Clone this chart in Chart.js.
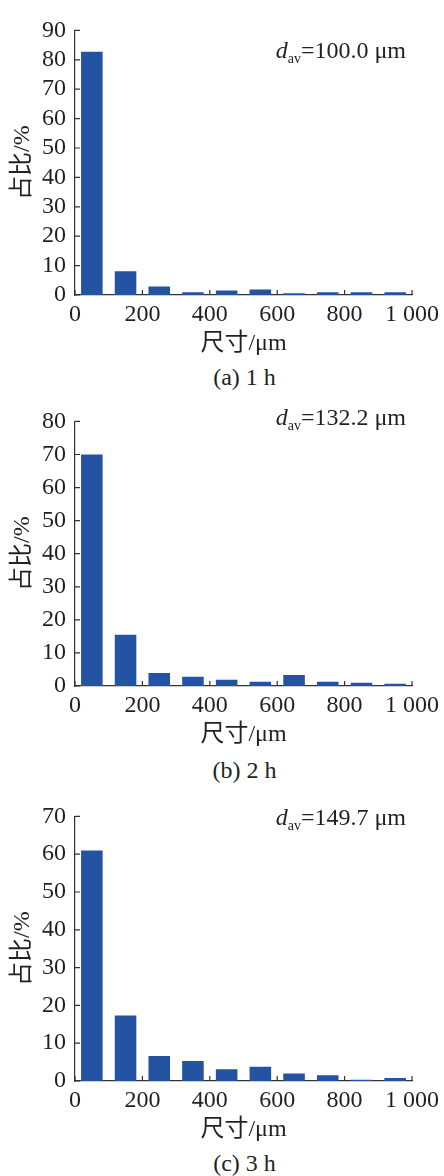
<!DOCTYPE html>
<html>
<head>
<meta charset="utf-8">
<script src="https://cdn.jsdelivr.net/npm/chart.js@4/dist/chart.umd.min.js"></script>
<style>
  html, body { margin: 0; padding: 0; background: #fff; }
  #page { position: relative; width: 444px; height: 1176px; overflow: hidden; }
  .panel { position: absolute; left: 0; width: 444px; height: 351px; }
  .txt { position: absolute; font-family: "Liberation Serif", "Noto Sans CJK SC", serif; font-size: 24px;
         color: #231f20; line-height: 28px; height: 28px; white-space: nowrap; }
  .cap { left: 0; width: 489px; text-align: center; }
  .dav { right: 38px; }
  .dav i { font-style: italic; }
  .dav sub { font-size: 14px; vertical-align: -5px; line-height: 0; }
</style>
</head>
<body>
<div id="page">
  <div class="panel" style="top:7px"><canvas id="c1"></canvas></div>
  <div class="panel" style="top:398px"><canvas id="c2"></canvas></div>
  <div class="panel" style="top:793px"><canvas id="c3"></canvas></div>

  <div class="txt dav" style="top:36px"><i>d</i><sub>av</sub>=100.0 μm</div>
  <div class="txt dav" style="top:403px"><i>d</i><sub>av</sub>=132.2 μm</div>
  <div class="txt dav" style="top:803px"><i>d</i><sub>av</sub>=149.7 μm</div>

  <div class="txt cap" style="top:363px">(a) 1 h</div>
  <div class="txt cap" style="top:756px">(b) 2 h</div>
  <div class="txt cap" style="top:1149px">(c) 3 h</div>
</div>
<script>
// 粒径区间中心 (μm)
const binCenters = [50, 150, 250, 350, 450, 550, 650, 750, 850, 950];

// 各时间的占比 (%)
const share1h = [82.7, 8.1, 2.9, 0.9, 1.5, 1.9, 0.6, 0.9, 0.9, 0.9];
const share2h = [70.0, 15.5, 3.9, 2.8, 1.9, 1.3, 3.3, 1.3, 1.0, 0.7];
const share3h = [61.0, 17.3, 6.6, 5.3, 3.1, 3.8, 2.0, 1.5, 0.3, 0.8];

const yMax = [90, 80, 70];
const xTicks = [0, 200, 400, 600, 800, 1000];

const FONT = '"Liberation Serif", "Noto Sans CJK SC", serif';
const INK = '#231f20';
const BAR = '#2453a2';

// 刻度线朝内
const innerTicks = {
  id: 'innerTicks',
  afterDraw(chart) {
    const { ctx, chartArea: a, scales: { x, y } } = chart;
    ctx.save();
    ctx.strokeStyle = '#333';
    ctx.lineWidth = 1.2;
    ctx.beginPath();
    y.ticks.forEach(t => {
      const py = y.getPixelForValue(t.value);
      ctx.moveTo(a.left, py);
      ctx.lineTo(a.left + 5, py);
    });
    x.ticks.forEach(t => {
      const px = x.getPixelForValue(t.value);
      ctx.moveTo(px, a.bottom);
      ctx.lineTo(px, a.bottom - 5);
    });
    ctx.stroke();
    ctx.restore();
  }
};

function makeChart(id, values, max) {
  return new Chart(document.getElementById(id), {
    type: 'bar',
    data: {
      datasets: [{
        data: binCenters.map((c, i) => ({ x: c, y: values[i] })),
        backgroundColor: BAR,
        borderWidth: 0,
        categoryPercentage: 1,
        barPercentage: 0.64
      }]
    },
    plugins: [innerTicks],
    options: {
      responsive: true,
      maintainAspectRatio: false,
      animation: false,
      layout: { padding: { top: 14, right: 30, left: 0, bottom: 0 } },
      plugins: { legend: { display: false }, tooltip: { enabled: false } },
      scales: {
        x: {
          type: 'linear',
          offset: false,
          min: 0,
          max: 1000,
          afterBuildTicks: s => { s.ticks = xTicks.map(v => ({ value: v })); },
          afterFit: s => { s.height = 63; },
          grid: { display: false, drawTicks: false },
          border: { display: true, color: '#333', width: 1.2 },
          ticks: {
            autoSkip: false,
            padding: 5,
            color: INK,
            font: { family: FONT, size: 24 },
            maxRotation: 0,
            callback: v => v === 1000 ? '1 000' : String(v)
          },
          title: {
            display: true,
            text: '尺寸/μm',
            color: INK,
            font: { family: FONT, size: 24 },
            padding: { top: 0, bottom: 0 }
          }
        },
        y: {
          min: 0,
          max: max,
          afterFit: s => { s.width = 75; },
          grid: { display: false, drawTicks: false },
          border: { display: true, color: '#333', width: 1.2 },
          ticks: {
            autoSkip: false,
            stepSize: 10,
            padding: 9,
            color: INK,
            font: { family: FONT, size: 24 }
          },
          title: {
            display: true,
            text: '占比/%',
            color: INK,
            font: { family: FONT, size: 24 },
            padding: { top: 8, bottom: 0 }
          }
        }
      }
    }
  });
}

makeChart('c1', share1h, yMax[0]);
makeChart('c2', share2h, yMax[1]);
makeChart('c3', share3h, yMax[2]);
</script>
</body>
</html>
